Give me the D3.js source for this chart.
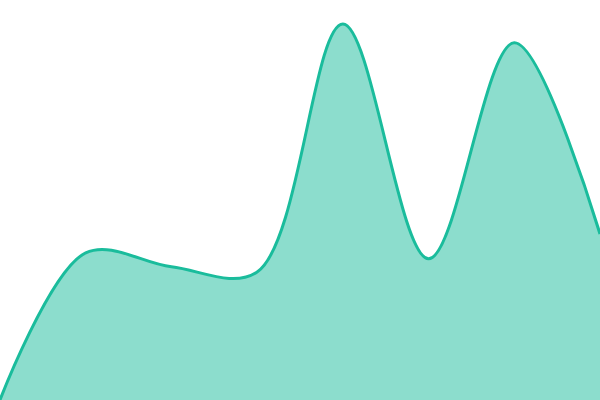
<!DOCTYPE html>
<html>
<head>
<script src="https://d3js.org/d3.v7.min.js"></script>
<style>
  body { margin: 0; }
</style>
</head>
<body>
<div id="chart"></div>
<script>
// data
var labels = ["1", "2", "3", "4", "5", "6", "7", "8"];
var values = [0, 36.8, 33.3, 32, 94, 35.3, 89.3, 41.5];

var width = 600, height = 400;

var svg = d3.select("#chart").append("svg")
    .attr("width", width)
    .attr("height", height);

var x = d3.scalePoint().domain(labels).range([0, width]);
var y = d3.scaleLinear().domain([0, 100]).range([height, 0]);

var data = labels.map(function(d, i) { return {k: d, v: values[i]}; });

var area = d3.area()
    .curve(d3.curveCatmullRom)
    .x(function(d) { return x(d.k); })
    .y0(height)
    .y1(function(d) { return y(d.v); });

var line = d3.line()
    .curve(d3.curveCatmullRom)
    .x(function(d) { return x(d.k); })
    .y(function(d) { return y(d.v); });

svg.append("path")
    .datum(data)
    .attr("d", area)
    .attr("fill", "#1abc9c")
    .attr("fill-opacity", 0.5);

svg.append("path")
    .datum(data)
    .attr("d", line)
    .attr("fill", "none")
    .attr("stroke", "#1abc9c")
    .attr("stroke-width", 3);
</script>
</body>
</html>
